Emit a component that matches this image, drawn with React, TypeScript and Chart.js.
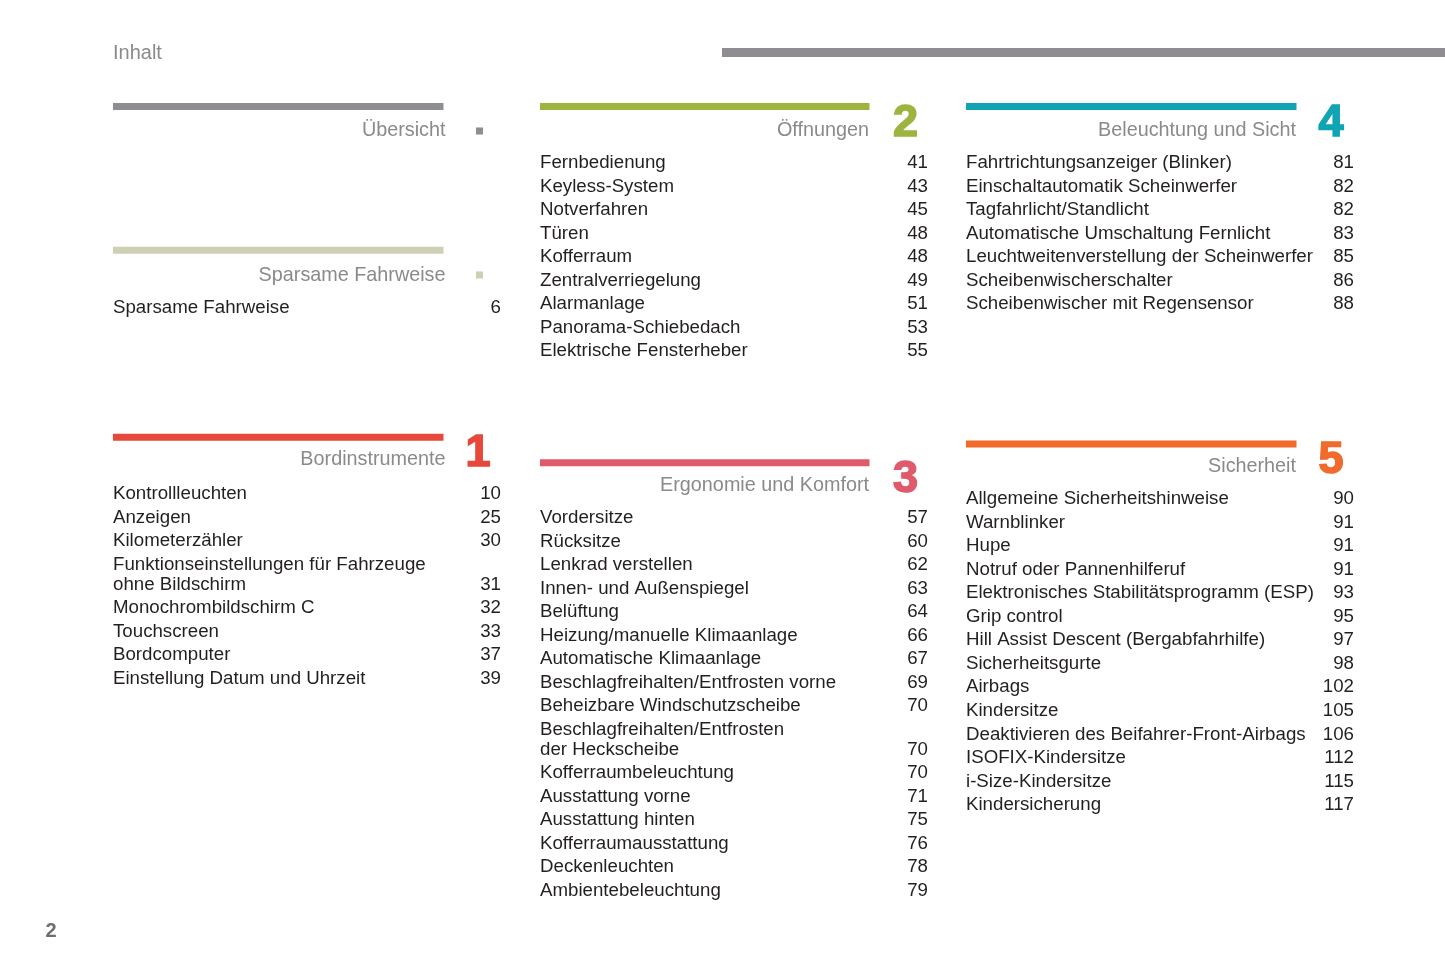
import { useEffect, useRef } from "react";
import { Chart, registerables } from "chart.js";

Chart.register(...registerables);

// ---------- DATA ----------
const pageTitle = "Inhalt";
const pageNumber = "2";

const sectionTitles = [
  "Übersicht",
  "Sparsame Fahrweise",
  "Öffnungen",
  "Beleuchtung und Sicht",
  "Bordinstrumente",
  "Ergonomie und Komfort",
  "Sicherheit",
];
const chapterNumerals = ["", "", "2", "4", "1", "3", "5"];

const uebersichtItems: string[] = [];
const uebersichtPages: string[] = [];

const sparsameItems = ["Sparsame Fahrweise"];
const sparsamePages = ["6"];

const oeffnungenItems = [
  "Fernbedienung",
  "Keyless-System",
  "Notverfahren",
  "Türen",
  "Kofferraum",
  "Zentralverriegelung",
  "Alarmanlage",
  "Panorama-Schiebedach",
  "Elektrische Fensterheber",
];
const oeffnungenPages = ["41", "43", "45", "48", "48", "49", "51", "53", "55"];

const beleuchtungItems = [
  "Fahrtrichtungsanzeiger (Blinker)",
  "Einschaltautomatik Scheinwerfer",
  "Tagfahrlicht/Standlicht",
  "Automatische Umschaltung Fernlicht",
  "Leuchtweitenverstellung der Scheinwerfer",
  "Scheibenwischerschalter",
  "Scheibenwischer mit Regensensor",
];
const beleuchtungPages = ["81", "82", "82", "83", "85", "86", "88"];

const bordinstrumenteItems = [
  "Kontrollleuchten",
  "Anzeigen",
  "Kilometerzähler",
  "Funktionseinstellungen für Fahrzeuge\nohne Bildschirm",
  "Monochrombildschirm C",
  "Touchscreen",
  "Bordcomputer",
  "Einstellung Datum und Uhrzeit",
];
const bordinstrumentePages = ["10", "25", "30", "31", "32", "33", "37", "39"];

const ergonomieItems = [
  "Vordersitze",
  "Rücksitze",
  "Lenkrad verstellen",
  "Innen- und Außenspiegel",
  "Belüftung",
  "Heizung/manuelle Klimaanlage",
  "Automatische Klimaanlage",
  "Beschlagfreihalten/Entfrosten vorne",
  "Beheizbare Windschutzscheibe",
  "Beschlagfreihalten/Entfrosten\nder Heckscheibe",
  "Kofferraumbeleuchtung",
  "Ausstattung vorne",
  "Ausstattung hinten",
  "Kofferraumausstattung",
  "Deckenleuchten",
  "Ambientebeleuchtung",
];
const ergonomiePages = [
  "57", "60", "62", "63", "64", "66", "67", "69", "70", "70", "70", "71", "75", "76", "78", "79",
];

const sicherheitItems = [
  "Allgemeine Sicherheitshinweise",
  "Warnblinker",
  "Hupe",
  "Notruf oder Pannenhilferuf",
  "Elektronisches Stabilitätsprogramm (ESP)",
  "Grip control",
  "Hill Assist Descent (Bergabfahrhilfe)",
  "Sicherheitsgurte",
  "Airbags",
  "Kindersitze",
  "Deaktivieren des Beifahrer-Front-Airbags",
  "ISOFIX-Kindersitze",
  "i-Size-Kindersitze",
  "Kindersicherung",
];
const sicherheitPages = [
  "90", "91", "91", "91", "93", "95", "97", "98", "102", "105", "106", "112", "115", "117",
];

const sectionItems = [
  uebersichtItems,
  sparsameItems,
  oeffnungenItems,
  beleuchtungItems,
  bordinstrumenteItems,
  ergonomieItems,
  sicherheitItems,
];
const sectionPages = [
  uebersichtPages,
  sparsamePages,
  oeffnungenPages,
  beleuchtungPages,
  bordinstrumentePages,
  ergonomiePages,
  sicherheitPages,
];

// ---------- LAYOUT / STYLE ----------
const W = 1445;
const H = 964;
const FONT = "'Liberation Sans', Arial, Helvetica, sans-serif";
const columns = [
  { left: 113, right: 443.5, titleRight: 445.5, pageRight: 501, numeralX: 478 },
  { left: 540, right: 869.5, titleRight: 869, pageRight: 928, numeralX: 905.5 },
  { left: 966, right: 1296.5, titleRight: 1296, pageRight: 1354, numeralX: 1331 },
];
const sectionLayout = [
  { col: 0, barY: 106.5, titleY: 129, firstY: 0, color: "#8f8d92", squareY: 131, squareColor: "#8f8d92" },
  { col: 0, barY: 250.3, titleY: 274, firstY: 306, color: "#cfcfb4", squareY: 275, squareColor: "#cfcfb4" },
  { col: 1, barY: 106.5, titleY: 129, firstY: 161, color: "#9db53f", squareY: null, squareColor: "" },
  { col: 2, barY: 106.5, titleY: 129, firstY: 161, color: "#11a4b4", squareY: null, squareColor: "" },
  { col: 0, barY: 437.3, titleY: 458, firstY: 492, color: "#e6493a", squareY: null, squareColor: "" },
  { col: 1, barY: 462.7, titleY: 484, firstY: 516, color: "#df5a6b", squareY: null, squareColor: "" },
  { col: 2, barY: 444, titleY: 465, firstY: 497, color: "#f06b2c", squareY: null, squareColor: "" },
];
const ROW_STEP = 23.55;
const WRAP_STEP = 20;
const AFTER_WRAP_STEP = 23.3;
const BAR_WIDTH = 7;

function rowPositions(items: string[], firstY: number): number[] {
  const ys: number[] = [];
  let y = firstY;
  items.forEach((it, i) => {
    if (i > 0) {
      const prev = items[i - 1];
      y += prev.includes("\n") ? WRAP_STEP + AFTER_WRAP_STEP : ROW_STEP;
    }
    ys.push(y);
  });
  return ys;
}

const textPlugin = {
  id: "tocText",
  afterDatasetsDraw(chart: any) {
    const ctx: CanvasRenderingContext2D = chart.ctx;
    const xs = chart.scales.x;
    const ys = chart.scales.y;
    const px = (v: number) => xs.getPixelForValue(v);
    const py = (v: number) => ys.getPixelForValue(v);
    ctx.save();

    // Page header
    ctx.fillStyle = "#8a8a8a";
    ctx.font = `20px ${FONT}`;
    ctx.textAlign = "left";
    ctx.textBaseline = "alphabetic";
    ctx.fillText(pageTitle, px(113), py(58.5));

    // Page number
    ctx.fillStyle = "#6e6e70";
    ctx.font = `bold 20px ${FONT}`;
    ctx.fillText(pageNumber, px(45.5), py(937));

    sectionLayout.forEach((lay, s) => {
      const col = columns[lay.col];
      // title
      ctx.fillStyle = "#8a8a8a";
      ctx.font = `19.8px ${FONT}`;
      ctx.textAlign = "right";
      ctx.fillText(sectionTitles[s], px(col.titleRight), py(lay.titleY + 7));
      // numeral
      if (chapterNumerals[s]) {
        ctx.fillStyle = lay.color;
        ctx.font = `bold 45px ${FONT}`;
        ctx.textAlign = "center";
        ctx.lineWidth = 1.6;
        ctx.strokeStyle = lay.color;
        const nx = px(col.numeralX);
        const ny = py(lay.barY - BAR_WIDTH / 2 + 32.5);
        ctx.fillText(chapterNumerals[s], nx, ny);
        ctx.strokeText(chapterNumerals[s], nx, ny);
      }
      // items
      const meta = chart.getDatasetMeta(chart.data.datasets.findIndex((d: any) => d.itemsOf === s));
      const items = sectionItems[s];
      const pages = sectionPages[s];
      ctx.font = `18.7px ${FONT}`;
      ctx.fillStyle = "#231f20";
      items.forEach((it, i) => {
        const pt = meta.data[i];
        if (!pt) return;
        const lines = it.split("\n");
        ctx.textAlign = "left";
        lines.forEach((ln, k) => {
          ctx.fillText(ln, pt.x, pt.y + 7 + k * WRAP_STEP);
        });
        ctx.textAlign = "right";
        ctx.fillText(pages[i], px(col.pageRight), pt.y + 7 + (lines.length - 1) * WRAP_STEP);
      });
    });
    ctx.restore();
  },
};

export default function App() {
  const ref = useRef<HTMLCanvasElement | null>(null);

  useEffect(() => {
    if (!ref.current) return;
    const datasets: any[] = [];
    // top header bar
    datasets.push({
      type: "line",
      data: [
        { x: 722, y: 52.5 },
        { x: W, y: 52.5 },
      ],
      borderColor: "#8f8d92",
      borderWidth: 9,
      borderCapStyle: "butt",
      pointRadius: 0,
      showLine: true,
    });
    sectionLayout.forEach((lay, s) => {
      const col = columns[lay.col];
      datasets.push({
        type: "line",
        data: [
          { x: col.left, y: lay.barY },
          { x: col.right, y: lay.barY },
        ],
        borderColor: lay.color,
        borderWidth: BAR_WIDTH,
        borderCapStyle: "butt",
        pointRadius: 0,
        showLine: true,
      });
      if (lay.squareY !== null) {
        datasets.push({
          type: "scatter",
          data: [{ x: col.numeralX + 1.5, y: lay.squareY }],
          pointStyle: "rect",
          pointRadius: 5,
          backgroundColor: lay.squareColor,
          borderWidth: 0,
        });
      }
      const yPos = rowPositions(sectionItems[s], lay.firstY);
      datasets.push({
        type: "scatter",
        itemsOf: s,
        data: yPos.map((y) => ({ x: col.left, y })),
        pointRadius: 0,
        borderWidth: 0,
      });
    });

    const chart = new Chart(ref.current, {
      type: "scatter",
      data: { datasets },
      options: {
        responsive: false,
        maintainAspectRatio: false,
        animation: false,
        events: [],
        layout: { padding: 0, autoPadding: false },
        plugins: { legend: { display: false }, tooltip: { enabled: false } },
        scales: {
          x: { type: "linear", min: 0, max: W, display: false },
          y: { type: "linear", min: 0, max: H, reverse: true, display: false },
        },
      } as any,
      plugins: [textPlugin],
    });
    return () => chart.destroy();
  }, []);

  return (
    <div style={{ position: "absolute", left: 0, top: 0, width: W, height: H, background: "#ffffff" }}>
      <canvas ref={ref} width={W} height={H} style={{ display: "block", width: W, height: H }} />
    </div>
  );
}
